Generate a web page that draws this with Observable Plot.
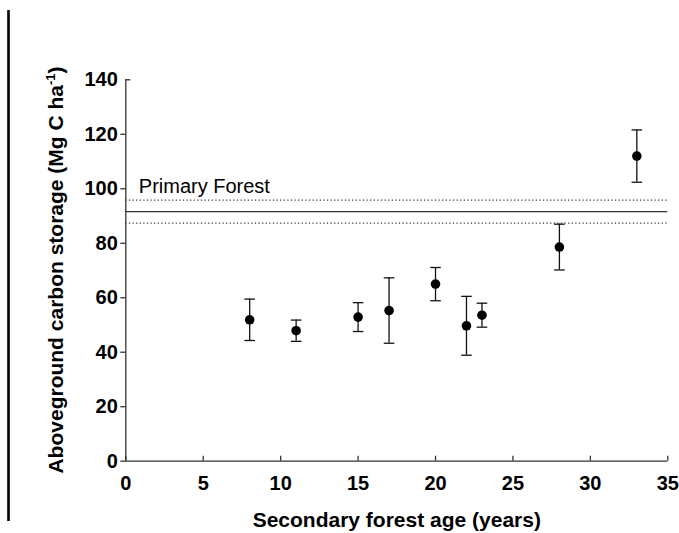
<!DOCTYPE html>
<html>
<head>
<meta charset="utf-8">
<script src="https://cdn.jsdelivr.net/npm/d3@7"></script>
<script src="https://cdn.jsdelivr.net/npm/@observablehq/plot@0.6"></script>
<style>
  html, body { margin: 0; padding: 0; background: #fff; }
  #chart { width: 679px; height: 533px; }
</style>
</head>
<body>
<div id="chart"></div>
<script>
// Secondary forest age (years) and aboveground carbon storage (Mg C / ha), mean ± SE
const ages = [8, 11, 15, 17, 20, 22, 23, 28, 33];
const carbon = [51.9, 47.9, 52.9, 55.3, 65.0, 49.7, 53.6, 78.6, 112.0];
const stdErr = [7.6, 3.9, 5.3, 12.0, 6.1, 10.8, 4.4, 8.4, 9.6];

// Primary forest reference level, mean ± SE
const primaryMean = 91.6;
const primarySe = 4.2;
const primaryLabel = "Primary Forest";

const xTicks = [0, 5, 10, 15, 20, 25, 30, 35];
const yTicks = [0, 20, 40, 60, 80, 100, 120, 140];

const xTitle = "Secondary forest age (years)";
const yTitle = "Aboveground carbon storage (Mg C ha";
const yTitleSup = "-1";

const rows = ages.map((age, i) => ({
  age,
  carbon: carbon[i],
  lo: carbon[i] - stdErr[i],
  hi: carbon[i] + stdErr[i]
}));

// horizontal cap drawn at the ends of each error bar
const capSymbol = {
  draw(context) {
    context.moveTo(-5.3, 0);
    context.lineTo(5.3, 0);
  }
};

const ink = "#111";
const axisInk = "#333";
const yMax = yTicks[yTicks.length - 1];

const plot = Plot.plot({
  width: 679,
  height: 533,
  marginLeft: 125.3,
  marginRight: 11.7,
  marginTop: 79.3,
  marginBottom: 72.3,
  style: {
    fontFamily: "'Liberation Sans', Arial, Helvetica, sans-serif",
    fontSize: "20px",
    fontWeight: "bold",
    color: "#000",
    background: "#fff"
  },
  x: { domain: [0, 35] },
  y: { domain: [0, 140] },
  marks: [
    // primary forest mean and its SE band
    Plot.ruleY([primaryMean], { x1: 0, x2: 35, stroke: axisInk, strokeWidth: 1.3 }),
    Plot.ruleY([primaryMean - primarySe, primaryMean + primarySe], {
      x1: 0, x2: 35, stroke: axisInk, strokeWidth: 1.2, strokeDasharray: "1.2,2.4"
    }),
    Plot.text([primaryLabel], {
      x: 0, y: primaryMean + primarySe, text: d => d,
      textAnchor: "start", lineAnchor: "bottom", dx: 13, dy: -7,
      fontWeight: "normal", fontSize: 20, fill: "#000"
    }),

    // error bars
    Plot.ruleX(rows, { x: "age", y1: "lo", y2: "hi", stroke: ink, strokeWidth: 1.3 }),
    Plot.dot(rows, { x: "age", y: "hi", symbol: capSymbol, stroke: ink, strokeWidth: 1.3 }),
    Plot.dot(rows, { x: "age", y: "lo", symbol: capSymbol, stroke: ink, strokeWidth: 1.3 }),
    Plot.dot(rows, { x: "age", y: "carbon", r: 4.8, fill: "#000", stroke: null }),

    // axis lines
    Plot.ruleY([0], { stroke: axisInk, strokeWidth: 1.3 }),
    Plot.ruleX([0], { stroke: axisInk, strokeWidth: 1.3 }),

    // x axis: ticks point inward
    Plot.axisX({
      ticks: xTicks, tickFormat: d => String(d), tickSize: -5, tickPadding: 20,
      stroke: axisInk, strokeWidth: 1.3, fill: "#000", label: null
    }),
    // y axis: labels, outward ticks, and an inward tick at the top
    Plot.axisY({
      ticks: yTicks, tickFormat: d => String(d), tickSize: 0, tickPadding: 8,
      fill: "#000", label: null
    }),
    Plot.axisY({
      ticks: yTicks.filter(t => t !== yMax), tickFormat: () => "", tickSize: 5,
      stroke: axisInk, strokeWidth: 1.3, label: null
    }),
    Plot.axisY({
      ticks: [yMax], tickFormat: () => "", tickSize: -5,
      stroke: axisInk, strokeWidth: 1.3, label: null
    }),

    // x axis title
    Plot.text([xTitle], {
      frameAnchor: "bottom", text: d => d, dy: 66, lineAnchor: "bottom",
      fontSize: 21, fontWeight: "bold", fill: "#000"
    })
  ]
});

document.getElementById("chart").appendChild(plot);

const svg = d3.select(plot);

// y axis title with superscript unit
const yt = svg.append("text")
  .attr("transform", "translate(62.5,270) rotate(-90)")
  .attr("text-anchor", "middle")
  .attr("font-size", 21)
  .attr("font-weight", "bold")
  .attr("fill", "#000");
yt.append("tspan").text(yTitle);
yt.append("tspan").attr("font-size", 13).attr("dy", -8).text(yTitleSup);
yt.append("tspan").attr("dy", 8).text(")");

// vertical rule at the page's left edge
svg.append("line")
  .attr("x1", 8.5).attr("x2", 8.5)
  .attr("y1", 10).attr("y2", 521)
  .attr("stroke", "#000")
  .attr("stroke-width", 2.6);
</script>
</body>
</html>
